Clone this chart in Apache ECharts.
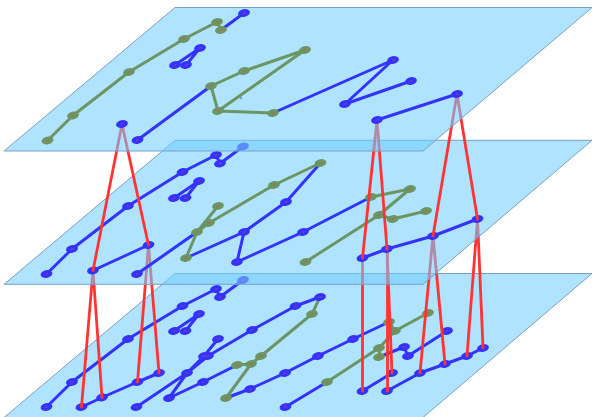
<!DOCTYPE html>
<html><head><meta charset="utf-8">
<style>html,body{margin:0;padding:0;background:#fff}#c{width:592px;height:417px}</style>
<script src="https://cdn.jsdelivr.net/npm/echarts@6/dist/echarts.min.js"></script>
</head><body><div id="c"></div>
<script>
// Plane outlines
const planeTop = [[4,151],[175,7.5],[592,7.5],[423,151]];
const planeMid = [[4,284.3],[175,140.3],[592,140.3],[423,284.3]];
const planeBot = [[4,417.5],[175,273.5],[592,273.5],[423,417.5]];

// Top layer
const topBlueNodes = [[122,124],[137.5,140],[244,13],[175,65],[186,65],[200,48],[393,60],[345,104],[411,81],[377,120],[457,94]];
const topGreenNodes = [[47.5,140.5],[73,115.5],[129,72],[184,39],[217,22],[221,30],[211,86],[244,71],[305,50],[218,111],[273,113]];
const topBlueLinks = [[[137.5,140],[211,86]],[[221,30],[244,13]],[[175,65],[200,48],[186,65]],[[273,113],[393,60],[345,104],[411,81]],[[377,120],[457,94]]];
const topGreenLinks = [[[47.5,140.5],[73,115.5],[129,72],[184,39],[217,22],[221,30]],[[211,86],[244,71],[305,50],[218,111],[211,86]],[[218,111],[273,113]]];
const topSpeck = [[241,98]];

// Middle layer
const midBlueNodes = [[46.5,274],[72,249],[128,206],[182.5,172],[216,155],[220,163.5],[243,146.5],[174,198],[185.5,198],[199,181],[93,270.5],[148.5,245],[137,274],[244,232],[237,262],[303,232],[286,202],[362.5,258],[387,249],[433,236],[477.5,219]];
const midGreenNodes = [[197,232],[218,206],[186,258],[209,223],[274,185],[320.5,163],[371,197],[410,189],[379,215],[305.5,262],[393,219],[426,211]];
const midBlueLinks = [[[46.5,274],[72,249],[128,206],[182.5,172],[216,155],[220,163.5],[243,146.5]],[[174,198],[199,181],[185.5,198]],[[93,270.5],[148.5,245]],[[137,274],[197,232]],[[186,258],[244,232],[237,262],[303,232],[371,197]],[[244,232],[286,202],[320.5,163]],[[362.5,258],[387,249],[433,236],[477.5,219]]];
const midGreenLinks = [[[186,258],[197,232],[218,206]],[[197,232],[209,223],[274,185],[320.5,163]],[[371,197],[410,189],[379,215],[305.5,262]],[[379,215],[393,219],[426,211]]];

// Bottom layer
const botBlueNodes = [[46.5,407],[72,382],[128,339],[182.5,306],[216,289],[220,297],[243,280],[174,331],[185.5,331],[199,314],[81.5,407],[102,397.5],[137.5,382],[159,373],[136.5,407],[187,373],[204,356],[218,339],[208,356],[252,330],[295.5,306],[320,297],[169,398],[203,382],[250,389],[285,373],[318,356],[353,339],[285.5,407],[362.5,391],[392,373],[387,391],[420,373],[445,364],[467,356],[483,348],[404,347],[408,356],[447,331]];
const botGreenNodes = [[237,365],[251,364],[261,356],[226,398],[312,314],[389,322],[327,382],[379,348],[379,357],[395,331],[428,313]];
const botBlueLinks = [[[46.5,407],[72,382],[128,339],[182.5,306],[216,289],[220,297],[243,280]],[[174,331],[199,314],[185.5,331]],[[81.5,407],[102,397.5],[137.5,382],[159,373]],[[136.5,407],[187,373],[204,356],[218,339]],[[187,373],[208,356],[252,330],[295.5,306],[320,297]],[[187,373],[169,398],[203,382],[237,365]],[[226,398],[250,389],[285,373],[318,356],[353,339],[389,322]],[[285.5,407],[327,382]],[[362.5,391],[392,373]],[[387,391],[420,373],[445,364],[467,356],[483,348]],[[379,357],[404,347],[408,356],[447,331]]];
const botGreenLinks = [[[237,365],[251,364],[261,356],[312,314],[320,297]],[[251,364],[226,398]],[[327,382],[379,348],[395,331],[428,313]],[[389,322],[395,331]],[[379,348],[379,357]]];

// Links between layers
const upperRed = [[[122,124],[93,270.5]],[[122,124],[148.5,245]],[[377,120],[362.5,258]],[[377,120],[387,249]],[[457,94],[433,236]],[[457,94],[477.5,219]]];
const lowerRed = [[[93,270.5],[81.5,407]],[[93,270.5],[102,397.5]],[[148.5,245],[137.5,382]],[[148.5,245],[159,373]],[[362.5,258],[362.5,391]],[[387,249],[387,391]],[[387,249],[392,373]],[[433,236],[420,373]],[[433,236],[445,364]],[[477.5,219],[467,356]],[[477.5,219],[483,348]]];

const BLUE='#3333ff', GREEN='#6b9663', RED='#ff3333';
function plane(pts,z){return {type:'custom',coordinateSystem:'cartesian2d',z,silent:true,data:[[0,0]],
  renderItem:(p,api)=>({type:'polygon',shape:{points:pts.map(a=>api.coord(a))},
    style:{fill:'rgba(115,205,255,0.57)',stroke:'#7a9fc9',lineWidth:1}})};}
function links(chains,color,z,w){const data=[];chains.forEach(c=>{for(let i=0;i<c.length-1;i++)data.push({coords:[c[i],c[i+1]]});});
  return {type:'lines',coordinateSystem:'cartesian2d',z,silent:true,data,lineStyle:{color,width:w||3,opacity:1,cap:'round'}};}
function nodes(pts,color,z){return {type:'scatter',z,silent:true,data:pts,symbol:'circle',symbolSize:[12,7.5],symbolRotate:12,itemStyle:{color,opacity:1}};}
function marks(pts,z){return {type:'scatter',z,silent:true,data:pts,symbol:'rect',symbolSize:[3,1],symbolRotate:15,itemStyle:{color:'#ff3355',opacity:.75}};}

const series=[
 plane(planeBot,1),links(botBlueLinks,BLUE,2),links(botGreenLinks,GREEN,2.1),nodes(botBlueNodes,BLUE,3),nodes(botGreenNodes,GREEN,3),marks(botBlueNodes.concat(botGreenNodes),4),
 links(lowerRed,RED,5,2.8),
 plane(planeMid,6),links(midBlueLinks,BLUE,7),links(midGreenLinks,GREEN,7.1),nodes(midBlueNodes,BLUE,8),nodes(midGreenNodes,GREEN,8),marks(midBlueNodes.concat(midGreenNodes),9),
 links(upperRed,RED,10,2.8),
 plane(planeTop,11),links(topBlueLinks,BLUE,12),links(topGreenLinks,GREEN,12.1),nodes(topBlueNodes,BLUE,13),nodes(topGreenNodes,GREEN,13),marks(topBlueNodes.concat(topGreenNodes),14),
 {type:'scatter',z:14,silent:true,data:topSpeck,symbol:'rect',symbolSize:[1,2.5],itemStyle:{color:BLUE}}
];
const chart=echarts.init(document.getElementById('c'),null,{renderer:'canvas'});
chart.setOption({animation:false,backgroundColor:'#fff',
 grid:{left:0,right:0,top:0,bottom:0},
 xAxis:{type:'value',min:0,max:592,show:false},
 yAxis:{type:'value',min:0,max:417,inverse:true,show:false},
 series});
</script></body></html>
